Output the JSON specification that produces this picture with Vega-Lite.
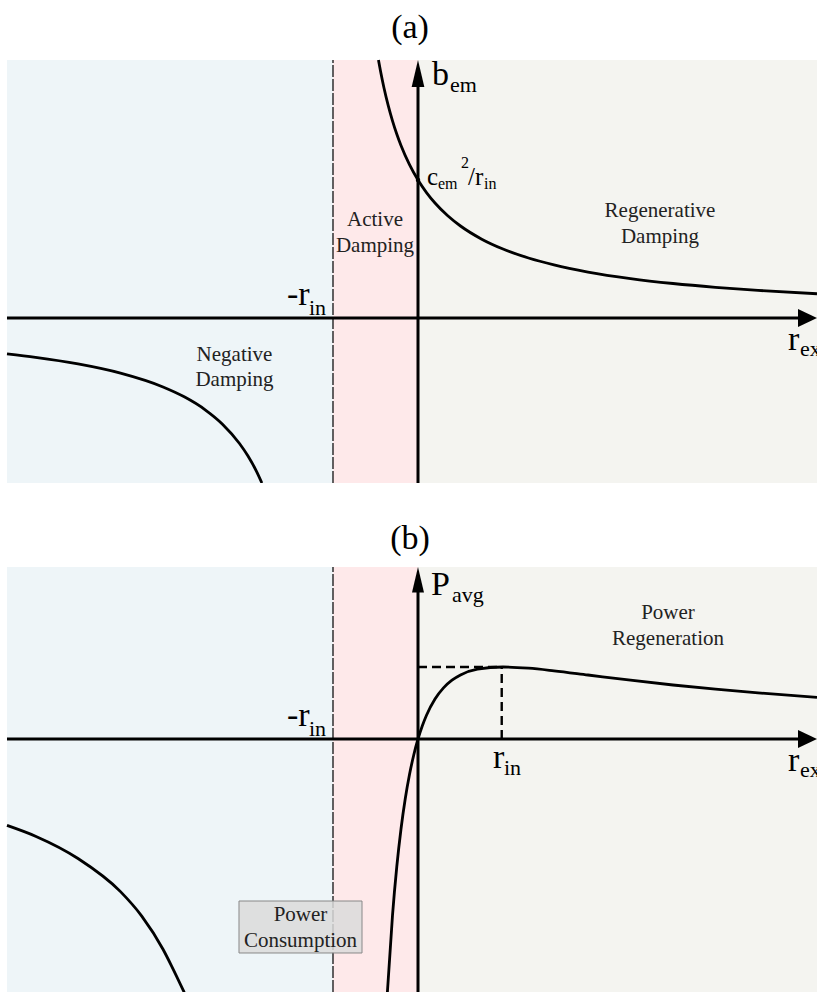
{
  "$schema": "https://vega.github.io/schema/vega-lite/v6.json",
  "padding": 0,
  "spacing": 0,
  "bounds": "flush",
  "config": {"view": {"stroke": null}, "font": "Liberation Serif"},
  "datasets": {
    "bgA": [
      {"region": "neg", "x": -4.8353, "x2": -1, "y": -1.19565, "y2": 1.8696},
      {"region": "act", "x": -1, "x2": 0, "y": -1.19565, "y2": 1.8696},
      {"region": "reg", "x": 0, "x2": 4.6941, "y": -1.19565, "y2": 1.8696}
    ],
    "bgB": [
      {"region": "neg", "x": -4.8353, "x2": -1, "y": -3.5139, "y2": 2.3889},
      {"region": "act", "x": -1, "x2": 0, "y": -3.5139, "y2": 2.3889},
      {"region": "reg", "x": 0, "x2": 4.6941, "y": -3.5139, "y2": 2.3889}
    ],
    "dashA": [{"x": -1, "y": -1.19565, "x2": -1, "y2": 1.8696}],
    "dashB": [{"x": -1, "y": -3.5139, "x2": -1, "y2": 2.3889}],
    "axesA": [
      {"x": -4.8353, "y": 0, "x2": 4.4706, "y2": 0},
      {"x": 0, "y": -1.19565, "x2": 0, "y2": 1.72}
    ],
    "axesB": [
      {"x": -4.8353, "y": 0, "x2": 4.4706, "y2": 0},
      {"x": 0, "y": -3.5139, "x2": 0, "y2": 2.2}
    ],
    "upA": [{"x": 0, "y": 1.8696}],
    "rightA": [{"x": 4.6941, "y": 0}],
    "upB": [{"x": 0, "y": 2.3889}],
    "rightB": [{"x": 4.6941, "y": 0}],
    "curveA": [
      {"branch": "right", "x": -0.4651, "y": 1.8695},
      {"branch": "right", "x": -0.44, "y": 1.7857},
      {"branch": "right", "x": -0.4, "y": 1.6667},
      {"branch": "right", "x": -0.35, "y": 1.5385},
      {"branch": "right", "x": -0.3, "y": 1.4286},
      {"branch": "right", "x": -0.25, "y": 1.3333},
      {"branch": "right", "x": -0.2, "y": 1.25},
      {"branch": "right", "x": -0.1, "y": 1.1111},
      {"branch": "right", "x": 0, "y": 1},
      {"branch": "right", "x": 0.1, "y": 0.9091},
      {"branch": "right", "x": 0.2, "y": 0.8333},
      {"branch": "right", "x": 0.35, "y": 0.7407},
      {"branch": "right", "x": 0.5, "y": 0.6667},
      {"branch": "right", "x": 0.75, "y": 0.5714},
      {"branch": "right", "x": 1, "y": 0.5},
      {"branch": "right", "x": 1.3, "y": 0.4348},
      {"branch": "right", "x": 1.6, "y": 0.3846},
      {"branch": "right", "x": 2, "y": 0.3333},
      {"branch": "right", "x": 2.5, "y": 0.2857},
      {"branch": "right", "x": 3, "y": 0.25},
      {"branch": "right", "x": 3.5, "y": 0.2222},
      {"branch": "right", "x": 4, "y": 0.2},
      {"branch": "right", "x": 4.6941, "y": 0.1756},
      {"branch": "left", "x": -4.8353, "y": -0.2607},
      {"branch": "left", "x": -4.5, "y": -0.2857},
      {"branch": "left", "x": -4, "y": -0.3333},
      {"branch": "left", "x": -3.5, "y": -0.4},
      {"branch": "left", "x": -3, "y": -0.5},
      {"branch": "left", "x": -2.75, "y": -0.5714},
      {"branch": "left", "x": -2.5, "y": -0.6667},
      {"branch": "left", "x": -2.3, "y": -0.7692},
      {"branch": "left", "x": -2.1, "y": -0.9091},
      {"branch": "left", "x": -2, "y": -1},
      {"branch": "left", "x": -1.9, "y": -1.1111},
      {"branch": "left", "x": -1.8364, "y": -1.1957}
    ],
    "curveB": [
      {"branch": "right", "x": -0.36, "y": -3.5156},
      {"branch": "right", "x": -0.3, "y": -2.449},
      {"branch": "right", "x": -0.25, "y": -1.7778},
      {"branch": "right", "x": -0.2, "y": -1.25},
      {"branch": "right", "x": -0.15, "y": -0.8304},
      {"branch": "right", "x": -0.1, "y": -0.4938},
      {"branch": "right", "x": -0.05, "y": -0.2216},
      {"branch": "right", "x": 0, "y": 0},
      {"branch": "right", "x": 0.05, "y": 0.1814},
      {"branch": "right", "x": 0.1, "y": 0.3306},
      {"branch": "right", "x": 0.2, "y": 0.5556},
      {"branch": "right", "x": 0.3, "y": 0.7101},
      {"branch": "right", "x": 0.4, "y": 0.8163},
      {"branch": "right", "x": 0.5, "y": 0.8889},
      {"branch": "right", "x": 0.7, "y": 0.9689},
      {"branch": "right", "x": 1, "y": 1},
      {"branch": "right", "x": 1.3, "y": 0.983},
      {"branch": "right", "x": 1.6, "y": 0.9467},
      {"branch": "right", "x": 2, "y": 0.8889},
      {"branch": "right", "x": 2.5, "y": 0.8163},
      {"branch": "right", "x": 3, "y": 0.75},
      {"branch": "right", "x": 3.5, "y": 0.6914},
      {"branch": "right", "x": 4, "y": 0.64},
      {"branch": "right", "x": 4.6941, "y": 0.5791},
      {"branch": "left", "x": -4.8353, "y": -1.2},
      {"branch": "left", "x": -4.5, "y": -1.35},
      {"branch": "left", "x": -4, "y": -1.66},
      {"branch": "left", "x": -3.5, "y": -2.12},
      {"branch": "left", "x": -3.25, "y": -2.46},
      {"branch": "left", "x": -3, "y": -2.92},
      {"branch": "left", "x": -2.9, "y": -3.15},
      {"branch": "left", "x": -2.75, "y": -3.52}
    ],
    "peakDash": [
      {"x": 0, "y": 1, "x2": 0.985, "y2": 1},
      {"x": 0.985, "y": 0, "x2": 0.985, "y2": 1}
    ],
    "dotA": [{"x": 0, "y": 1}],
    "boxB": [{"x": -2.1059, "x2": -0.6588, "y": -2.25, "y2": -2.9722}],
    "titleA": [{"t": "(a)", "x": -0.0941, "y": 2.029}],
    "titleB": [{"t": "(b)", "x": -0.0941, "y": 2.6389}],
    "bigA": [
      {"t": "b", "x": 0.1647, "y": 1.6884},
      {"t": "-r", "x": -1.5412, "y": 0.0942},
      {"t": "r", "x": 4.3529, "y": -0.2319}
    ],
    "subA": [
      {"t": "em", "x": 0.3765, "y": 1.6377},
      {"t": "in", "x": -1.2824, "y": 0.0217},
      {"t": "ex", "x": 4.4941, "y": -0.2754}
    ],
    "cMain": [
      {"t": "c", "x": 0.1059, "y": 0.9638},
      {"t": "/r", "x": 0.5882, "y": 0.9638}
    ],
    "cSub": [
      {"t": "em", "x": 0.2353, "y": 0.9348},
      {"t": "2", "x": 0.5059, "y": 1.087},
      {"t": "in", "x": 0.7765, "y": 0.9348}
    ],
    "midA": [
      {"t": "Active", "x": -0.5059, "y": 0.6667},
      {"t": "Damping", "x": -0.5059, "y": 0.4783},
      {"t": "Regenerative", "x": 2.847, "y": 0.7319},
      {"t": "Damping", "x": 2.847, "y": 0.5435},
      {"t": "Negative", "x": -2.1588, "y": -0.3116},
      {"t": "Damping", "x": -2.1588, "y": -0.4928}
    ],
    "bigB": [
      {"t": "P", "x": 0.1529, "y": 2.0},
      {"t": "-r", "x": -1.5412, "y": 0.1806},
      {"t": "r", "x": 0.8824, "y": -0.4028},
      {"t": "r", "x": 4.3529, "y": -0.4444}
    ],
    "subB": [
      {"t": "avg", "x": 0.4, "y": 1.9028},
      {"t": "in", "x": -1.2824, "y": 0.0417},
      {"t": "in", "x": 1.0118, "y": -0.5},
      {"t": "ex", "x": 4.4941, "y": -0.5278}
    ],
    "midB": [
      {"t": "Power", "x": 2.941, "y": 1.6667},
      {"t": "Regeneration", "x": 2.941, "y": 1.3056},
      {"t": "Power", "x": -1.3824, "y": -2.5278},
      {"t": "Consumption", "x": -1.3824, "y": -2.8889}
    ]
  },
  "vconcat": [
    {
      "width": 817,
      "height": 483,
      "encoding": {
        "x": {"field": "x", "type": "quantitative", "scale": {"domain": [-4.9176, 4.6941], "nice": false, "zero": false}, "axis": null},
        "y": {"field": "y", "type": "quantitative", "scale": {"domain": [-1.19565, 2.30435], "nice": false, "zero": false}, "axis": null}
      },
      "layer": [
        {
          "data": {"name": "bgA"},
          "mark": {"type": "rect"},
          "encoding": {
            "x2": {"field": "x2"},
            "y2": {"field": "y2"},
            "color": {"field": "region", "type": "nominal", "scale": {"domain": ["neg", "act", "reg"], "range": ["#EEF5F8", "#FEE9EA", "#F4F4F0"]}, "legend": null}
          }
        },
        {
          "data": {"name": "dashA"},
          "mark": {"type": "rule", "color": "#111111", "strokeWidth": 1.3, "strokeDash": [12, 2]},
          "encoding": {"x2": {"field": "x2"}, "y2": {"field": "y2"}}
        },
        {
          "data": {"name": "curveA"},
          "mark": {"type": "line", "color": "black", "strokeWidth": 2.8, "interpolate": "monotone", "clip": true},
          "encoding": {"detail": {"field": "branch", "type": "nominal"}}
        },
        {
          "data": {"name": "axesA"},
          "mark": {"type": "rule", "color": "black", "strokeWidth": 3},
          "encoding": {"x2": {"field": "x2"}, "y2": {"field": "y2"}}
        },
        {
          "data": {"name": "upA"},
          "mark": {"type": "point", "shape": "M0,0L-0.47,2L0.47,2Z", "size": 729, "filled": true, "color": "black", "opacity": 1, "strokeWidth": 0}
        },
        {
          "data": {"name": "rightA"},
          "mark": {"type": "point", "shape": "M0,0L-1.407,-0.667L-1.407,0.667Z", "size": 729, "filled": true, "color": "black", "opacity": 1, "strokeWidth": 0}
        },
        {
          "data": {"name": "dotA"},
          "mark": {"type": "point", "shape": "circle", "size": 20, "filled": true, "color": "black", "opacity": 1}
        },
        {
          "data": {"name": "titleA"},
          "mark": {"type": "text", "fontSize": 34, "align": "center", "baseline": "alphabetic", "color": "black", "font": "Liberation Serif"},
          "encoding": {"text": {"field": "t"}}
        },
        {
          "data": {"name": "bigA"},
          "mark": {"type": "text", "fontSize": 34, "align": "left", "baseline": "alphabetic", "color": "black", "font": "Liberation Serif"},
          "encoding": {"text": {"field": "t"}}
        },
        {
          "data": {"name": "subA"},
          "mark": {"type": "text", "fontSize": 22, "align": "left", "baseline": "alphabetic", "color": "black", "font": "Liberation Serif"},
          "encoding": {"text": {"field": "t"}}
        },
        {
          "data": {"name": "cMain"},
          "mark": {"type": "text", "fontSize": 25, "align": "left", "baseline": "alphabetic", "color": "black", "font": "Liberation Serif"},
          "encoding": {"text": {"field": "t"}}
        },
        {
          "data": {"name": "cSub"},
          "mark": {"type": "text", "fontSize": 16, "align": "left", "baseline": "alphabetic", "color": "black", "font": "Liberation Serif"},
          "encoding": {"text": {"field": "t"}}
        },
        {
          "data": {"name": "midA"},
          "mark": {"type": "text", "fontSize": 21, "align": "center", "baseline": "alphabetic", "color": "#222222", "font": "Liberation Serif"},
          "encoding": {"text": {"field": "t"}}
        }
      ]
    },
    {
      "width": 817,
      "height": 509,
      "encoding": {
        "x": {"field": "x", "type": "quantitative", "scale": {"domain": [-4.9176, 4.6941], "nice": false, "zero": false}, "axis": null},
        "y": {"field": "y", "type": "quantitative", "scale": {"domain": [-3.51389, 3.55556], "nice": false, "zero": false}, "axis": null}
      },
      "layer": [
        {
          "data": {"name": "bgB"},
          "mark": {"type": "rect"},
          "encoding": {
            "x2": {"field": "x2"},
            "y2": {"field": "y2"},
            "color": {"field": "region", "type": "nominal", "scale": {"domain": ["neg", "act", "reg"], "range": ["#EEF5F8", "#FEE9EA", "#F4F4F0"]}, "legend": null}
          }
        },
        {
          "data": {"name": "dashB"},
          "mark": {"type": "rule", "color": "#111111", "strokeWidth": 1.3, "strokeDash": [12, 2]},
          "encoding": {"x2": {"field": "x2"}, "y2": {"field": "y2"}}
        },
        {
          "data": {"name": "boxB"},
          "mark": {"type": "rect", "fill": "#DADADA", "fillOpacity": 0.85, "stroke": "#888888", "strokeWidth": 1},
          "encoding": {"x2": {"field": "x2"}, "y2": {"field": "y2"}}
        },
        {
          "data": {"name": "curveB"},
          "mark": {"type": "line", "color": "black", "strokeWidth": 2.8, "interpolate": "monotone", "clip": true},
          "encoding": {"detail": {"field": "branch", "type": "nominal"}}
        },
        {
          "data": {"name": "axesB"},
          "mark": {"type": "rule", "color": "black", "strokeWidth": 3},
          "encoding": {"x2": {"field": "x2"}, "y2": {"field": "y2"}}
        },
        {
          "data": {"name": "upB"},
          "mark": {"type": "point", "shape": "M0,0L-0.47,2L0.47,2Z", "size": 650, "filled": true, "color": "black", "opacity": 1, "strokeWidth": 0}
        },
        {
          "data": {"name": "rightB"},
          "mark": {"type": "point", "shape": "M0,0L-1.407,-0.667L-1.407,0.667Z", "size": 729, "filled": true, "color": "black", "opacity": 1, "strokeWidth": 0}
        },
        {
          "data": {"name": "peakDash"},
          "mark": {"type": "rule", "color": "black", "strokeWidth": 2.4, "strokeDash": [9, 5]},
          "encoding": {"x2": {"field": "x2"}, "y2": {"field": "y2"}}
        },
        {
          "data": {"name": "titleB"},
          "mark": {"type": "text", "fontSize": 34, "align": "center", "baseline": "alphabetic", "color": "black", "font": "Liberation Serif"},
          "encoding": {"text": {"field": "t"}}
        },
        {
          "data": {"name": "bigB"},
          "mark": {"type": "text", "fontSize": 34, "align": "left", "baseline": "alphabetic", "color": "black", "font": "Liberation Serif"},
          "encoding": {"text": {"field": "t"}}
        },
        {
          "data": {"name": "subB"},
          "mark": {"type": "text", "fontSize": 22, "align": "left", "baseline": "alphabetic", "color": "black", "font": "Liberation Serif"},
          "encoding": {"text": {"field": "t"}}
        },
        {
          "data": {"name": "midB"},
          "mark": {"type": "text", "fontSize": 21, "align": "center", "baseline": "alphabetic", "color": "#222222", "font": "Liberation Serif"},
          "encoding": {"text": {"field": "t"}}
        }
      ]
    }
  ]
}
